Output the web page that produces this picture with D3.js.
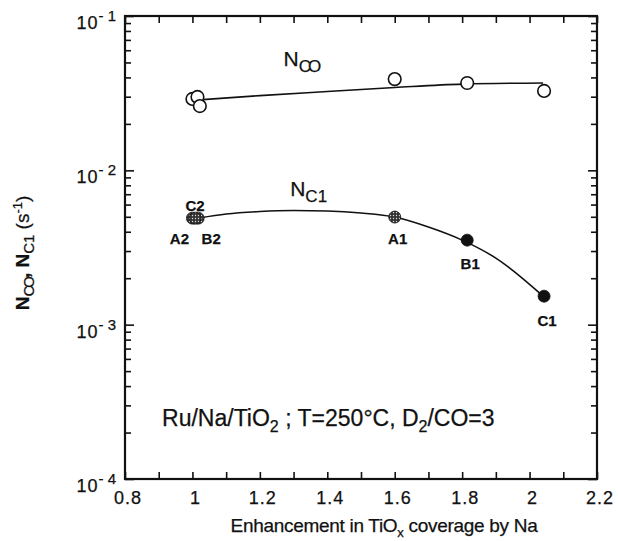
<!DOCTYPE html>
<html><head><meta charset="utf-8">
<script src="https://cdn.jsdelivr.net/npm/d3@7/dist/d3.min.js"></script>
<style>
  body{margin:0;background:#fff}
  svg text{font-family:"Liberation Sans", Arial, sans-serif;fill:#111;stroke:#111;stroke-width:0.25}
</style></head>
<body><div id="chart"></div>
<script>
// N_CO and N_C1 turnover vs. TiOx coverage enhancement (log y)
const coX   = [1.0, 1.015, 1.022, 1.60, 1.815, 2.043];
const coY   = [0.0290, 0.0299, 0.0261, 0.0390, 0.0368, 0.0327];
const coFitX = [1.02, 1.2, 1.4, 1.6, 1.8, 2.04];
const coFitY = [0.0286, 0.0305, 0.0324, 0.0344, 0.0362, 0.0368];

const c1Names = ['A2', 'B2', 'C2', 'A1', 'B1', 'C1'];
const c1X   = [1.0, 1.017, 1.008, 1.60, 1.815, 2.043];
const c1Y   = [0.0049, 0.0049, 0.0049, 0.00498, 0.00353, 0.00153];
const c1Kind = ['hatch', 'hatch', 'hatch', 'hatch', 'solid', 'solid'];
const c1FitX = [1.02, 1.1, 1.2, 1.3, 1.4, 1.5, 1.6, 1.7, 1.8, 1.9, 2.04];
const c1FitY = [0.00491, 0.00521, 0.00541, 0.00549, 0.00545, 0.00529, 0.00498, 0.00429, 0.00353, 0.0027, 0.00153];

const xTicks = [0.8, 1.0, 1.2, 1.4, 1.6, 1.8, 2.0, 2.2];
const xTickLabels = ['0.8', '1', '1.2', '1.4', '1.6', '1.8', '2', '2.2'];
const yDecades = [1e-4, 1e-3, 1e-2, 1e-1];
const yExp = ['4', '3', '2', '1'];

const W = 618, H = 541;
const m = {t:16, r:21, b:62, l:125};
const iw = W - m.l - m.r, ih = H - m.t - m.b;

const svg = d3.select('#chart').append('svg').attr('width', W).attr('height', H);
const g = svg.append('g').attr('transform', `translate(${m.l},${m.t})`);

const x = d3.scaleLinear().domain([0.8, 2.2]).range([0, iw]);
const y = d3.scaleLog().domain([1e-4, 1e-1]).range([ih, 0]);

// hatch pattern for the grey markers
const defs = svg.append('defs');
const pat = defs.append('pattern').attr('id', 'hatch').attr('patternUnits', 'userSpaceOnUse').attr('width', 3).attr('height', 3);
pat.append('rect').attr('width', 3).attr('height', 3).attr('fill', '#333');
pat.append('circle').attr('cx', 1.5).attr('cy', 1.5).attr('r', 0.7).attr('fill', '#ddd');

// minor ticks
const xMinor = d3.range(8, 23).map(d => d / 10);
const yMinor = [];
yDecades.slice(0, 3).forEach(d => { for (let k = 2; k <= 9; k++) yMinor.push(d * k); });

const styleAxis = a => { a.select('.domain').remove(); a.selectAll('line').attr('stroke', '#111').attr('stroke-width', 1.6); };

g.append('g').attr('transform', `translate(0,${ih})`)
  .call(d3.axisBottom(x).tickValues(xMinor).tickSize(-7).tickFormat(''))
  .call(styleAxis);
g.append('g')
  .call(d3.axisTop(x).tickValues(xMinor).tickSize(-7).tickFormat(''))
  .call(styleAxis);
g.append('g')
  .call(d3.axisLeft(y).tickValues(yMinor).tickSize(-6).tickFormat(''))
  .call(styleAxis);
g.append('g')
  .call(d3.axisLeft(y).tickValues(yDecades).tickSize(-9).tickFormat(''))
  .call(styleAxis);
g.append('g').attr('transform', `translate(${iw},0)`)
  .call(d3.axisRight(y).tickValues(yMinor).tickSize(-6).tickFormat(''))
  .call(styleAxis);
g.append('g').attr('transform', `translate(${iw},0)`)
  .call(d3.axisRight(y).tickValues(yDecades).tickSize(-9).tickFormat(''))
  .call(styleAxis);

// frame
g.append('rect').attr('width', iw).attr('height', ih).attr('fill', 'none').attr('stroke', '#111').attr('stroke-width', 2.2);

// x tick labels
g.selectAll('.xl').data(xTicks).join('text')
  .attr('x', d => x(d) + 3).attr('y', ih + 25)
  .attr('text-anchor', 'middle').attr('font-size', 18).attr('letter-spacing', 1)
  .text((d, i) => xTickLabels[i]);

// y tick labels 10^-n
yDecades.forEach((d, i) => {
  const t = g.append('text').attr('x', -9).attr('y', y(d) + 13).attr('text-anchor', 'end').attr('font-size', 18);
  t.append('tspan').text('10').attr('letter-spacing', 1);
  t.append('tspan').attr('dy', -8).attr('font-size', 15).text('- ' + yExp[i]);
});

// axis titles
const xt = g.append('text').attr('x', iw / 2 + 23).attr('y', ih + 53).attr('text-anchor', 'middle').attr('font-size', 19).attr('letter-spacing', -0.3);
xt.append('tspan').text('Enhancement in TiO');
xt.append('tspan').attr('dy', 5).attr('font-size', 13).text('x');
xt.append('tspan').attr('dy', -5).text(' coverage by Na');

const yt = svg.append('text').attr('transform', `translate(29,253) rotate(-90)`).attr('text-anchor', 'middle')
  .attr('font-size', 19).attr('font-weight', 700);
yt.append('tspan').text('N');
yt.append('tspan').attr('dy', 5).attr('font-size', 15).attr('font-weight', 400).attr('letter-spacing', -2).text('CO');
yt.append('tspan').attr('dy', -5).text(', N');
yt.append('tspan').attr('dy', 5).attr('font-size', 15).attr('font-weight', 400).text('C1');
yt.append('tspan').attr('dy', -5).attr('font-weight', 400).text(' (s');
yt.append('tspan').attr('dy', -7).attr('font-size', 13).attr('font-weight', 400).text('-1');
yt.append('tspan').attr('dy', 7).attr('font-weight', 400).text(')');

// fitted curves
const line = d3.line().x(d => x(d[0])).y(d => y(d[1])).curve(d3.curveMonotoneX);
g.append('path').datum(d3.zip(coFitX, coFitY)).attr('d', line).attr('fill', 'none').attr('stroke', '#111').attr('stroke-width', 1.6);
g.append('path').datum(d3.zip(c1FitX, c1FitY)).attr('d', line).attr('fill', 'none').attr('stroke', '#111').attr('stroke-width', 1.6);

// N_CO markers (open)
g.selectAll('.co').data(d3.zip(coX, coY)).join('circle')
  .attr('cx', d => x(d[0])).attr('cy', d => y(d[1])).attr('r', 6.3)
  .attr('fill', '#fff').attr('stroke', '#111').attr('stroke-width', 1.6);

// N_C1 markers
g.selectAll('.c1').data(d3.range(c1X.length)).join('circle')
  .attr('cx', i => x(c1X[i])).attr('cy', i => y(c1Y[i])).attr('r', 6)
  .attr('fill', i => c1Kind[i] === 'hatch' ? 'url(#hatch)' : '#111')
  .attr('stroke', '#111').attr('stroke-width', 0.8);

// point labels
const lblOff = {A2: [-13, 26], B2: [13, 26], C2: [0, -7], A1: [3, 27], B1: [3, 29], C1: [3, 30]};
c1Names.forEach((n, i) => {
  g.append('text').attr('x', x(c1X[i]) + lblOff[n][0]).attr('y', y(c1Y[i]) + lblOff[n][1])
    .attr('text-anchor', 'middle').attr('font-size', 15).attr('font-weight', 700).text(n);
});

// series labels
const sl = (tx, ty, sub, sp) => {
  const t = g.append('text').attr('x', tx).attr('y', ty).attr('font-size', 21);
  t.append('tspan').text('N');
  t.append('tspan').attr('dy', 6).attr('font-size', 17).attr('letter-spacing', sp).text(sub);
};
sl(x(1.27), y(0.0475) , 'CO', -3);
sl(x(1.29), y(0.0068), 'C1', 0);

// conditions note
const nt = g.append('text').attr('x', x(0.91)).attr('y', y(0.00022)).attr('font-size', 23);
nt.append('tspan').text('Ru/Na/TiO');
nt.append('tspan').attr('dy', 6).attr('font-size', 16).text('2');
nt.append('tspan').attr('dy', -6).text(' ; T=250\u00b0C, D');
nt.append('tspan').attr('dy', 6).attr('font-size', 16).text('2');
nt.append('tspan').attr('dy', -6).text('/CO=3');
</script></body></html>
